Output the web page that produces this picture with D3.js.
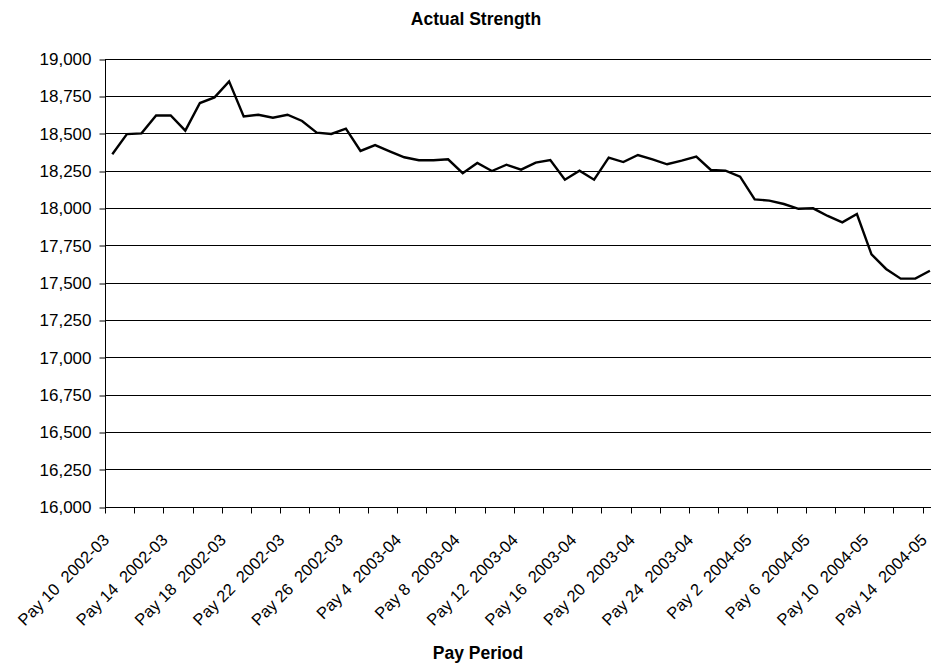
<!DOCTYPE html>
<html>
<head>
<meta charset="utf-8">
<script src="https://cdn.jsdelivr.net/npm/d3@7"></script>
<style>
  body { margin: 0; background: #fff; }
  svg { display: block; font-family: Arial, "Liberation Sans", sans-serif; }
  .tick text, .xlab { white-space: pre; }
</style>
</head>
<body>
<div id="chart"></div>
<script>
// pay periods, Pay 10 2002-03 through Pay 14 2004-05
const periods = [
  "Pay 10  2002-03", "Pay 11  2002-03", "Pay 12  2002-03", "Pay 13  2002-03", "Pay 14  2002-03",
  "Pay 15  2002-03", "Pay 16  2002-03", "Pay 17  2002-03", "Pay 18  2002-03", "Pay 19  2002-03",
  "Pay 20  2002-03", "Pay 21  2002-03", "Pay 22  2002-03", "Pay 23  2002-03", "Pay 24  2002-03",
  "Pay 25  2002-03", "Pay 26  2002-03",
  "Pay 1  2003-04", "Pay 2  2003-04", "Pay 3  2003-04", "Pay 4  2003-04", "Pay 5  2003-04",
  "Pay 6  2003-04", "Pay 7  2003-04", "Pay 8  2003-04", "Pay 9  2003-04", "Pay 10  2003-04",
  "Pay 11  2003-04", "Pay 12  2003-04", "Pay 13  2003-04", "Pay 14  2003-04", "Pay 15  2003-04",
  "Pay 16  2003-04", "Pay 17  2003-04", "Pay 18  2003-04", "Pay 19  2003-04", "Pay 20  2003-04",
  "Pay 21  2003-04", "Pay 22  2003-04", "Pay 23  2003-04", "Pay 24  2003-04", "Pay 25  2003-04",
  "Pay 26  2003-04",
  "Pay 1  2004-05", "Pay 2  2004-05", "Pay 3  2004-05", "Pay 4  2004-05", "Pay 5  2004-05",
  "Pay 6  2004-05", "Pay 7  2004-05", "Pay 8  2004-05", "Pay 9  2004-05", "Pay 10  2004-05",
  "Pay 11  2004-05", "Pay 12  2004-05", "Pay 13  2004-05", "Pay 14  2004-05"
];

const strength = [
  18360, 18495, 18500, 18620, 18620, 18518, 18703, 18741, 18848, 18613,
  18625, 18605, 18625, 18583, 18505, 18496, 18532,
  18382, 18421, 18380, 18340, 18320, 18320, 18326, 18233, 18302, 18248,
  18290, 18257, 18304, 18322, 18190, 18250, 18190, 18337, 18308, 18355,
  18326, 18293, 18317, 18344, 18255, 18250,
  18210, 18058, 18050, 18027, 17995, 17998, 17947, 17904, 17960, 17690,
  17592, 17527, 17527, 17580
];

const yTicks = [16000, 16250, 16500, 16750, 17000, 17250, 17500, 17750,
                18000, 18250, 18500, 18750, 19000];

const width = 931;
const height = 663;
const plot = { left: 105, top: 58.7, bottom: 506.7, band: 14.6 };

const svg = d3.select("#chart")
  .append("svg")
  .attr("width", width)
  .attr("height", height);

const x = d3.scaleBand()
  .domain(periods)
  .range([plot.left, plot.left + plot.band * periods.length])
  .padding(0);

const y = d3.scaleLinear()
  .domain([16000, 19000])
  .range([plot.bottom, plot.top]);

// gridlines
svg.append("g")
  .selectAll("line")
  .data(yTicks)
  .join("line")
  .attr("x1", plot.left)
  .attr("x2", x.range()[1])
  .attr("y1", (d) => Math.round(y(d)) + 0.5)
  .attr("y2", (d) => Math.round(y(d)) + 0.5)
  .attr("stroke", "#000")
  .attr("stroke-width", 1);

// y axis
const yAxis = svg.append("g")
  .attr("transform", `translate(${plot.left + 0.5},0.5)`)
  .call(d3.axisLeft(y).tickValues(yTicks).tickFormat(d3.format(",")).tickSize(6).tickPadding(8));
yAxis.select(".domain").attr("d", `M0,${Math.round(plot.top)}V${Math.round(plot.bottom)}`);
yAxis.selectAll(".tick line").attr("transform", (d) => `translate(0,${Math.round(y(d)) - y(d)})`);
yAxis.selectAll("text")
  .attr("fill", "#000")
  .style("font-size", "17px");

// x axis line + tick marks every 2 periods
const axisY = Math.round(plot.bottom) + 0.5;
svg.append("line")
  .attr("x1", plot.left)
  .attr("x2", x.range()[1])
  .attr("y1", axisY)
  .attr("y2", axisY)
  .attr("stroke", "#000");

svg.append("g")
  .selectAll("line")
  .data(periods.filter((d, i) => i % 2 === 0))
  .join("line")
  .attr("x1", (d) => Math.round(x(d)) + 0.5)
  .attr("x2", (d) => Math.round(x(d)) + 0.5)
  .attr("y1", axisY)
  .attr("y2", axisY + 6)
  .attr("stroke", "#000");

// labels every 4 periods
svg.append("g")
  .selectAll("text")
  .data(periods.filter((d, i) => i % 4 === 0))
  .join("text")
  .attr("class", "xlab")
  .attr("transform", (d) => `translate(${x(d) + x.bandwidth() / 2 - 2},541) rotate(-45)`)
  .attr("text-anchor", "end")
  .style("font-size", "16.5px")
  .attr("fill", "#000")
  .text((d) => d);

// line
const line = d3.line()
  .x((d, i) => x(periods[i]) + x.bandwidth() / 2)
  .y((d) => y(d));

svg.append("path")
  .datum(strength)
  .attr("fill", "none")
  .attr("stroke", "#000")
  .attr("stroke-width", 2.4)
  .attr("stroke-linejoin", "miter")
  .attr("d", line);

// titles
svg.append("text")
  .attr("x", 476)
  .attr("y", 25)
  .attr("text-anchor", "middle")
  .style("font-size", "17.5px")
  .style("font-weight", "bold")
  .text("Actual Strength");

svg.append("text")
  .attr("x", 478)
  .attr("y", 659)
  .attr("text-anchor", "middle")
  .style("font-size", "17.5px")
  .style("font-weight", "bold")
  .text("Pay Period");
</script>
</body>
</html>
